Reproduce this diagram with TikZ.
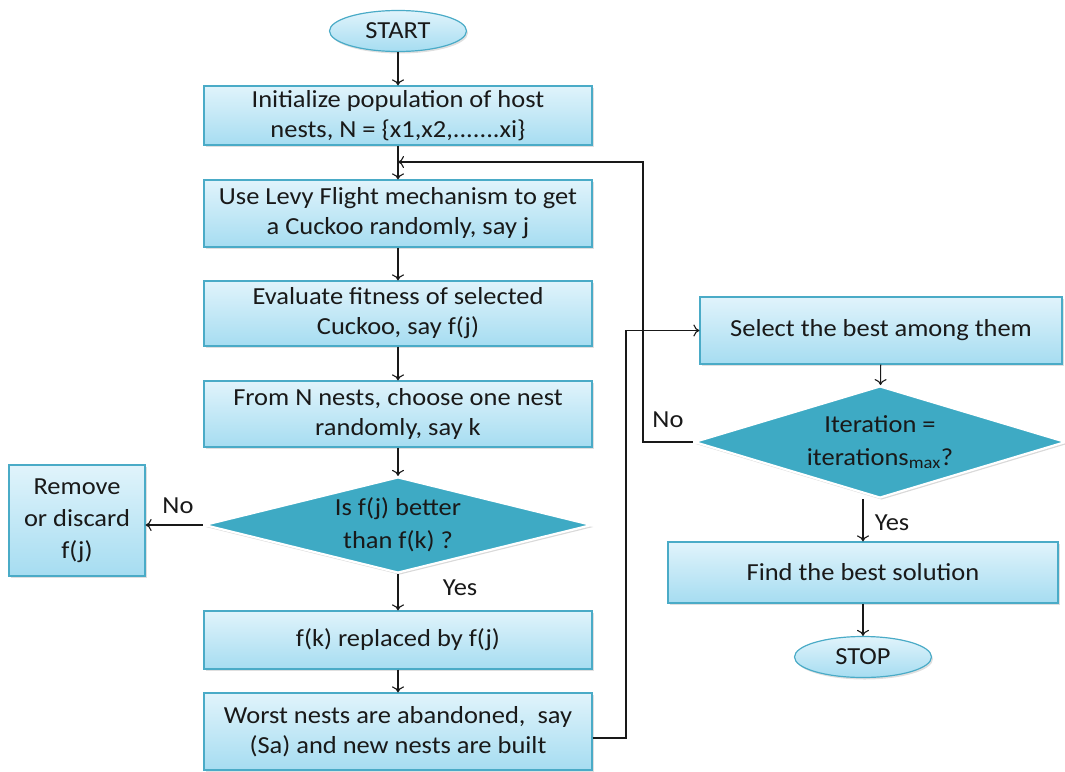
\documentclass[tikz,border=0pt]{standalone}
\usepackage{fontspec}
\setmainfont{Carlito}[FakeStretch=1.08]
\usetikzlibrary{shapes.geometric,shadows,arrows.meta}

\newlength{\du}
\setlength{\du}{1\unitlength}

\definecolor{boxline}{rgb}{0.290000, 0.670000, 0.780000}
\definecolor{boxtop}{rgb}{0.880000, 0.955000, 0.985000}
\definecolor{boxbottom}{rgb}{0.650000, 0.865000, 0.945000}
\definecolor{decisionfill}{rgb}{0.245000, 0.665000, 0.770000}
\definecolor{inkcolor}{rgb}{0.100000, 0.100000, 0.100000}

\tikzset{
  flowtext/.style={font=\fontsize{24.5}{30}\selectfont, text=inkcolor},
  procbox/.style={flowtext, draw=boxline, line width=1.2pt, top color=boxtop, bottom color=boxbottom,
    align=center, inner sep=0pt, drop shadow={opacity=0.25, shadow xshift=1.5pt, shadow yshift=-2pt}},
  terminal/.style={procbox, ellipse, minimum width=137\du, minimum height=41\du},
  decision/.style={flowtext, diamond, aspect=4, draw=white, line width=2.2pt, fill=decisionfill,
    align=center, inner sep=0pt, drop shadow={opacity=0.3, shadow xshift=1.5pt, shadow yshift=-2pt}},
  flowlabel/.style={flowtext, inner sep=0pt},
  conn/.style={-{To[length=6pt,width=12pt]}, line width=1.1pt, draw=inkcolor},
}

\begin{document}
\begin{tikzpicture}
\pgftransformxscale{1.000000}
\pgftransformyscale{-1.000000}
\useasboundingbox (0\du,0\du) rectangle (1065\du,771\du);
% left column
\node[terminal] (start) at (398\du,31\du){START};
\node[procbox, minimum width=388\du, minimum height=59\du] (init) at (398\du,115.5\du){Initialize population of host\\nests, N = \{x1,x2,.......xi\}};
\node[procbox, minimum width=388\du, minimum height=67\du] (levy) at (398\du,213.5\du){Use Levy Flight mechanism to get\\a Cuckoo randomly, say j};
\node[procbox, minimum width=388\du, minimum height=65\du] (fitness) at (398\du,313.5\du){Evaluate fitness of selected\\Cuckoo, say f(j)};
\node[procbox, minimum width=388\du, minimum height=66\du] (choose) at (398\du,414\du){From N nests, choose one nest\\randomly, say k};
\node[decision, minimum width=388\du, minimum height=96\du, font=\fontsize{24.5}{33}\selectfont] (better) at (398\du,525\du){Is f(j) better\\than f(k) ?};
\node[procbox, minimum width=136\du, minimum height=111\du, font=\fontsize{24.5}{32}\selectfont] (discard) at (77\du,520.5\du){Remove\\or discard\\f(j)};
\node[procbox, minimum width=388\du, minimum height=58\du] (replace) at (398\du,640\du){f(k) replaced by f(j)};
\node[procbox, minimum width=388\du, minimum height=77\du] (abandon) at (398\du,731.5\du){Worst nests are abandoned,\ \ say\\(Sa) and new nests are built};
% right column
\node[procbox, minimum width=362\du, minimum height=67\du] (select) at (881\du,330.5\du){Select the best among them};
\node[decision, minimum width=372\du, minimum height=112\du, font=\fontsize{24.5}{33}\selectfont] (iterate) at (880\du,442\du){Iteration =\\iterations\textsubscript{max}?};
\node[procbox, minimum width=390\du, minimum height=61\du] (best) at (863\du,572.5\du){Find the best solution};
\node[terminal] (stop) at (863\du,657\du){STOP};
% labels
\node[flowlabel] (nodiscard) at (178\du,506\du){No};
\node[flowlabel] (yesreplace) at (460\du,588\du){Yes};
\node[flowlabel] (noloop) at (668\du,420\du){No};
\node[flowlabel] (yesbest) at (892\du,523\du){Yes};
% turning points
\coordinate (loopturn) at (643\du,162\du);
\coordinate (upturn) at (626\du,738\du);
% connectors
\draw[conn] (start) -- (init);
\draw[conn] (init) -- (levy);
\draw[conn] (levy) -- (fitness);
\draw[conn] (fitness) -- (choose);
\draw[conn] (choose) -- (better);
\draw[conn] (better.west) -- (better.west -| discard.east);
\draw[conn] (better) -- (replace);
\draw[conn] (replace) -- (abandon);
\draw[conn] (abandon.east |- upturn) -- (upturn) |- (select.west);
\draw[conn] (select) -- (iterate);
\draw[conn] (iterate.west) -| (loopturn) -- (loopturn -| init.south);
\draw[conn] (iterate.south -| best.north) -- (best.north);
\draw[conn] (best) -- (stop);
\end{tikzpicture}
\end{document}
